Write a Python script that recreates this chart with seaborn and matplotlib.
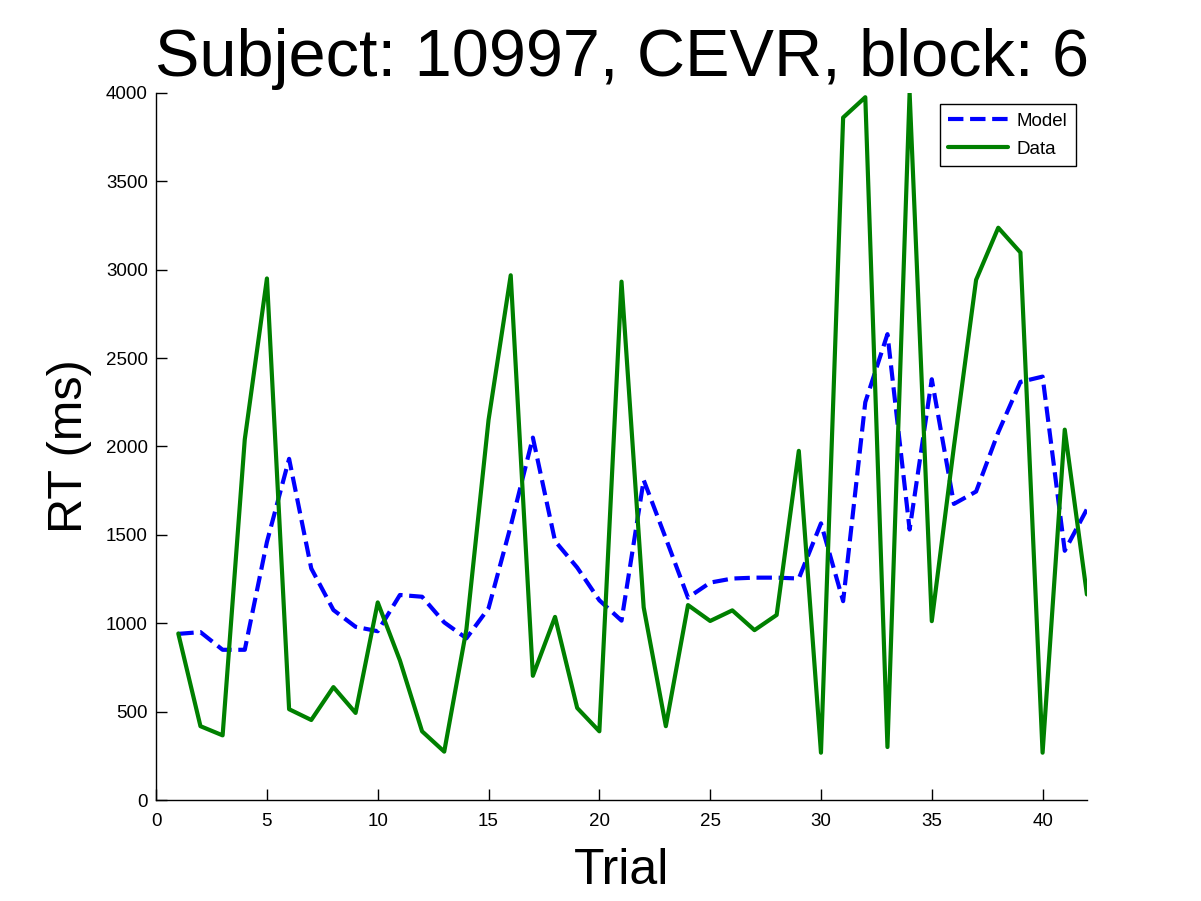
import matplotlib
matplotlib.use("Agg")
import matplotlib.pyplot as plt
import seaborn as sns
import pandas as pd
import numpy as np

sns.set_style("white")
plt.rcParams['font.family'] = ['Liberation Sans', 'DejaVu Sans']
plt.rcParams['text.color'] = 'black'
plt.rcParams['axes.labelcolor'] = 'black'

trials = np.arange(1, 43)
model_rt = [940, 950, 850, 850, 1460, 1930, 1310, 1075, 980, 955,
            1160, 1150, 1005, 915, 1085, 1550, 2050, 1465, 1315, 1130,
            1015, 1810, 1480, 1145, 1230, 1253, 1258, 1258, 1253, 1565,
            1125, 2250, 2635, 1530, 2380, 1675, 1745, 2080, 2365, 2395,
            1410, 1645]
data_rt = [942, 418, 366, 2040, 2950, 514, 453, 639, 493, 1118,
           790, 389, 274, 965, 2150, 2968, 703, 1036, 521, 389,
           2932, 1090, 418, 1103, 1013, 1073, 961, 1047, 1975, 268,
           3860, 3975, 300, 4000, 1012, 2000, 2942, 3237, 3097, 268,
           2095, 1163]

df = pd.DataFrame({"Trial": trials, "Model": model_rt, "Data": data_rt})

fig = plt.figure(figsize=(12.01, 9.01), dpi=100)
ax = fig.add_axes([0.13, 0.112, 0.775, 0.785])

sns.lineplot(data=df, x="Trial", y="Model", ax=ax, color="#0000ff",
             linestyle="--", linewidth=3, label="Model")
sns.lineplot(data=df, x="Trial", y="Data", ax=ax, color="#008000",
             linewidth=3, label="Data")

ax.set_xlim(0, 42)
ax.set_ylim(0, 4000)
ax.set_xticks(np.arange(0, 41, 5))
ax.set_yticks(np.arange(0, 4001, 500))
ax.tick_params(direction="in", length=8, width=1, labelsize=13.5, colors="black",
               left=True, bottom=True)
ax.tick_params(axis="x", pad=9)
ax.tick_params(axis="y", pad=6)
for side in ["top", "right"]:
    ax.spines[side].set_visible(False)
for side in ["left", "bottom"]:
    ax.spines[side].set_color("black")
    ax.spines[side].set_linewidth(1)

ax.set_xlabel("Trial", fontsize=36, labelpad=13)
ax.set_ylabel("RT (ms)", fontsize=35, labelpad=10)
ax.set_title("Subject: 10997, CEVR, block: 6", fontsize=48, pad=12)

leg = ax.legend(loc="upper right", fontsize=13.5, frameon=True, fancybox=False,
                edgecolor="black", framealpha=1, borderpad=0.45,
                handlelength=3.2, borderaxespad=0.6, labelspacing=0.6,
                handletextpad=0.45)
leg.get_frame().set_linewidth(1)

fig.savefig("out.png", dpi=100)
